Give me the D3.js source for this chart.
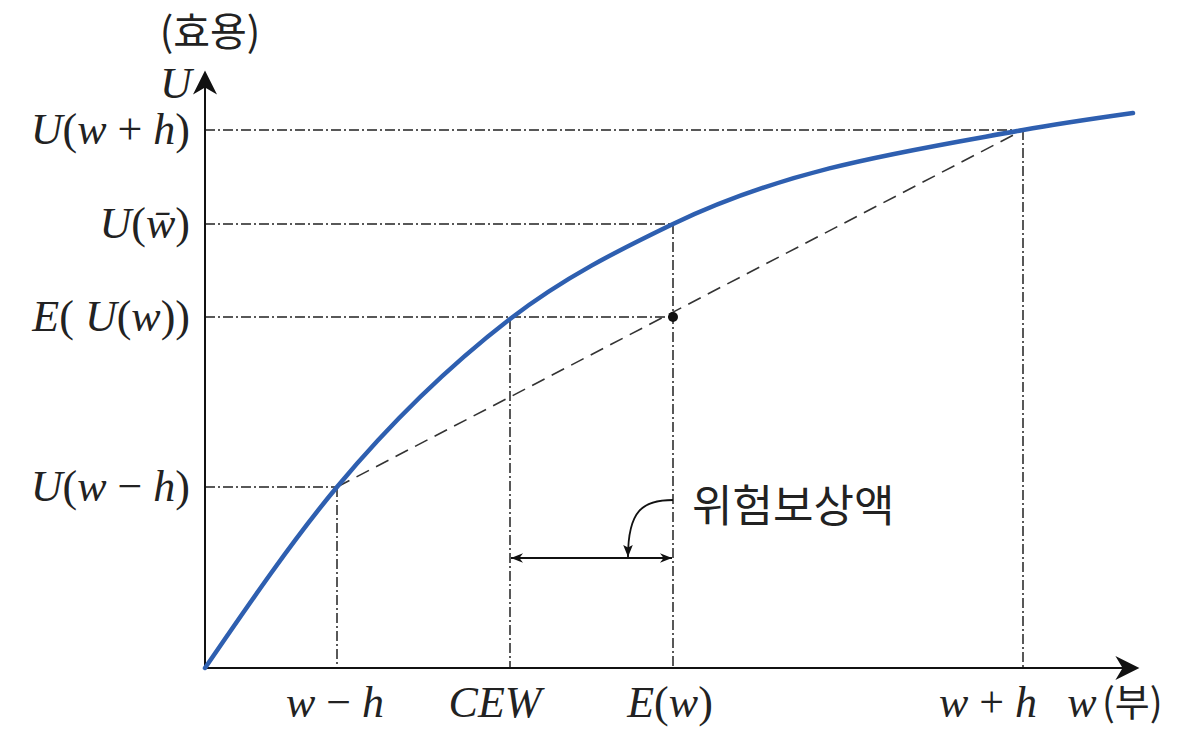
<!DOCTYPE html>
<html>
<head>
<meta charset="utf-8">
<script src="https://cdn.jsdelivr.net/npm/d3@7"></script>
<style>
  body { margin: 0; background: #fff; }
  .math { font-family: "Liberation Serif", "DejaVu Serif", serif; font-size: 44px; fill: #222; }
  .kr { font-family: "Noto Sans CJK KR", sans-serif; fill: #222; }
</style>
</head>
<body>
<div id="chart"></div>
<script>
// utility curve (wealth units, utility units)
var curveW = [0, 132, 305, 468, 818, 928];
var curveU = [0, 181, 349, 444, 538, 555];

// key points
var pointNames = ["w-h", "CEW", "Ew", "w+h"];
var pointW = [132, 305, 468, 818];
var pointU = [181, 349, 444, 538];
var expectedU = 351;   // E(U(w)) at E(w)

var svg = d3.select("#chart").append("svg").attr("width", 1184).attr("height", 730);

var x = d3.scaleLinear().domain([0, 930]).range([205, 1135]);
var y = d3.scaleLinear().domain([0, 593]).range([668, 75]);

var defs = svg.append("defs");
defs.append("marker").attr("id", "axhead").attr("viewBox", "0 0 10 10")
    .attr("refX", 9).attr("refY", 5).attr("markerWidth", 26).attr("markerHeight", 24)
    .attr("markerUnits", "userSpaceOnUse").attr("orient", "auto")
    .append("path").attr("d", "M0,0 L10,5 L0,10 L3,5 Z").attr("fill", "#111");
defs.append("marker").attr("id", "small").attr("viewBox", "0 0 10 10")
    .attr("refX", 10).attr("refY", 5).attr("markerWidth", 26).attr("markerHeight", 12)
    .attr("markerUnits", "userSpaceOnUse").attr("orient", "auto-start-reverse")
    .append("path").attr("d", "M0,1 L10,5 L0,9 L3,5 Z").attr("fill", "#111");
defs.append("marker").attr("id", "down").attr("viewBox", "0 0 10 10")
    .attr("refX", 10).attr("refY", 5).attr("markerWidth", 22).attr("markerHeight", 12)
    .attr("markerUnits", "userSpaceOnUse").attr("orient", "auto")
    .append("path").attr("d", "M0,1 L10,5 L0,9 L2,5 Z").attr("fill", "#111");

var dashdot = "10,3,2,3";
var guide = svg.append("g").attr("stroke", "#222").attr("stroke-width", 1.5)
    .attr("stroke-dasharray", dashdot).attr("fill", "none");

// horizontal guides
var hEnds = [[pointW[0], pointU[0]], [pointW[2], expectedU], [pointW[2], pointU[2]], [pointW[3], pointU[3]]];
hEnds.forEach(function(p) {
  guide.append("line").attr("x1", x(0)).attr("x2", x(p[0])).attr("y1", y(p[1])).attr("y2", y(p[1]));
});
// vertical guides
var vTops = [[pointW[0], pointU[0]], [pointW[1], pointU[1]], [pointW[2], pointU[2]], [pointW[3], pointU[3]]];
vTops.forEach(function(p) {
  guide.append("line").attr("x1", x(p[0])).attr("x2", x(p[0])).attr("y1", y(p[1])).attr("y2", y(0));
});

// chord
svg.append("line")
   .attr("x1", x(pointW[0])).attr("y1", y(pointU[0]))
   .attr("x2", x(pointW[3])).attr("y2", y(pointU[3]))
   .attr("stroke", "#333").attr("stroke-width", 1.6).attr("stroke-dasharray", "14,8");

// axes
svg.append("line").attr("x1", x(0)).attr("y1", y(0)).attr("x2", x(0)).attr("y2", y(593) - 2)
   .attr("stroke", "#111").attr("stroke-width", 2).attr("marker-end", "url(#axhead)");
svg.append("line").attr("x1", x(0)).attr("y1", y(0)).attr("x2", x(930) + 2).attr("y2", y(0))
   .attr("stroke", "#111").attr("stroke-width", 2).attr("marker-end", "url(#axhead)");

// utility curve
var line = d3.line().x(function(d) { return x(d[0]); }).y(function(d) { return y(d[1]); })
    .curve(d3.curveMonotoneX);
svg.append("path").datum(d3.zip(curveW, curveU))
   .attr("d", line).attr("fill", "none").attr("stroke", "#2e5fb0").attr("stroke-width", 4.5)
   .attr("stroke-linecap", "round");

// expected utility dot
svg.append("circle").attr("cx", x(pointW[2])).attr("cy", y(expectedU)).attr("r", 5).attr("fill", "#111");

// risk premium arrow
var ay = 558;
svg.append("line").attr("x1", x(pointW[1]) + 1).attr("x2", x(pointW[2]) - 1)
   .attr("y1", ay).attr("y2", ay).attr("stroke", "#111").attr("stroke-width", 1.8)
   .attr("marker-start", "url(#small)").attr("marker-end", "url(#small)");
var ex = x(pointW[2]);
svg.append("path")
   .attr("d", "M" + ex + ",500 C" + (ex - 30) + ",500 " + (ex - 45) + ",510 " + (ex - 45) + "," + (ay - 1))
   .attr("fill", "none").attr("stroke", "#111").attr("stroke-width", 1.8).attr("marker-end", "url(#down)");
svg.append("text").attr("class", "kr").attr("x", 692).attr("y", 522).attr("font-size", 44).text("위험보상액");

// math labels: [text, italic]
function mathLabel(parent, parts, xx, yy, anchor) {
  var t = parent.append("text").attr("class", "math").attr("x", xx).attr("y", yy).attr("text-anchor", anchor || "end");
  parts.forEach(function(p) {
    var s = t.append("tspan").text(p[0]);
    if (p[1]) s.attr("font-style", "italic");
  });
  return t;
}
var yLabels = [
  [[["U", 1], ["(", 0], ["w", 1], [" + ", 0], ["h", 1], [")", 0]], pointU[3]],
  [[["U", 1], ["(", 0], ["w\u0304", 1], [")", 0]], pointU[2]],
  [[["E", 1], ["( ", 0], ["U", 1], ["(", 0], ["w", 1], ["))", 0]], expectedU],
  [[["U", 1], ["(", 0], ["w", 1], [" − ", 0], ["h", 1], [")", 0]], pointU[0]]
];
yLabels.forEach(function(l) { mathLabel(svg, l[0], 190, y(l[1]) + 14); });

// x labels
var xLabels = [
  [[["w", 1], [" − ", 0], ["h", 1]], 335],
  [[["CEW", 1]], 495],
  [[["E", 1], ["(", 0], ["w", 1], [")", 0]], 670],
  [[["w", 1], [" + ", 0], ["h", 1]], 988]
];
xLabels.forEach(function(l) { mathLabel(svg, l[0], l[1], 717, "middle"); });
mathLabel(svg, [["w", 1]], 1082, 717, "middle");
svg.append("text").attr("class", "kr").attr("x", 1102).attr("y", 716).attr("font-size", 38).text("(부)");

// y axis title
mathLabel(svg, [["U", 1]], 176, 98, "middle");
svg.append("text").attr("class", "kr").attr("x", 210).attr("y", 46).attr("text-anchor", "middle")
   .attr("font-size", 40).text("(효용)");
</script>
</body>
</html>
